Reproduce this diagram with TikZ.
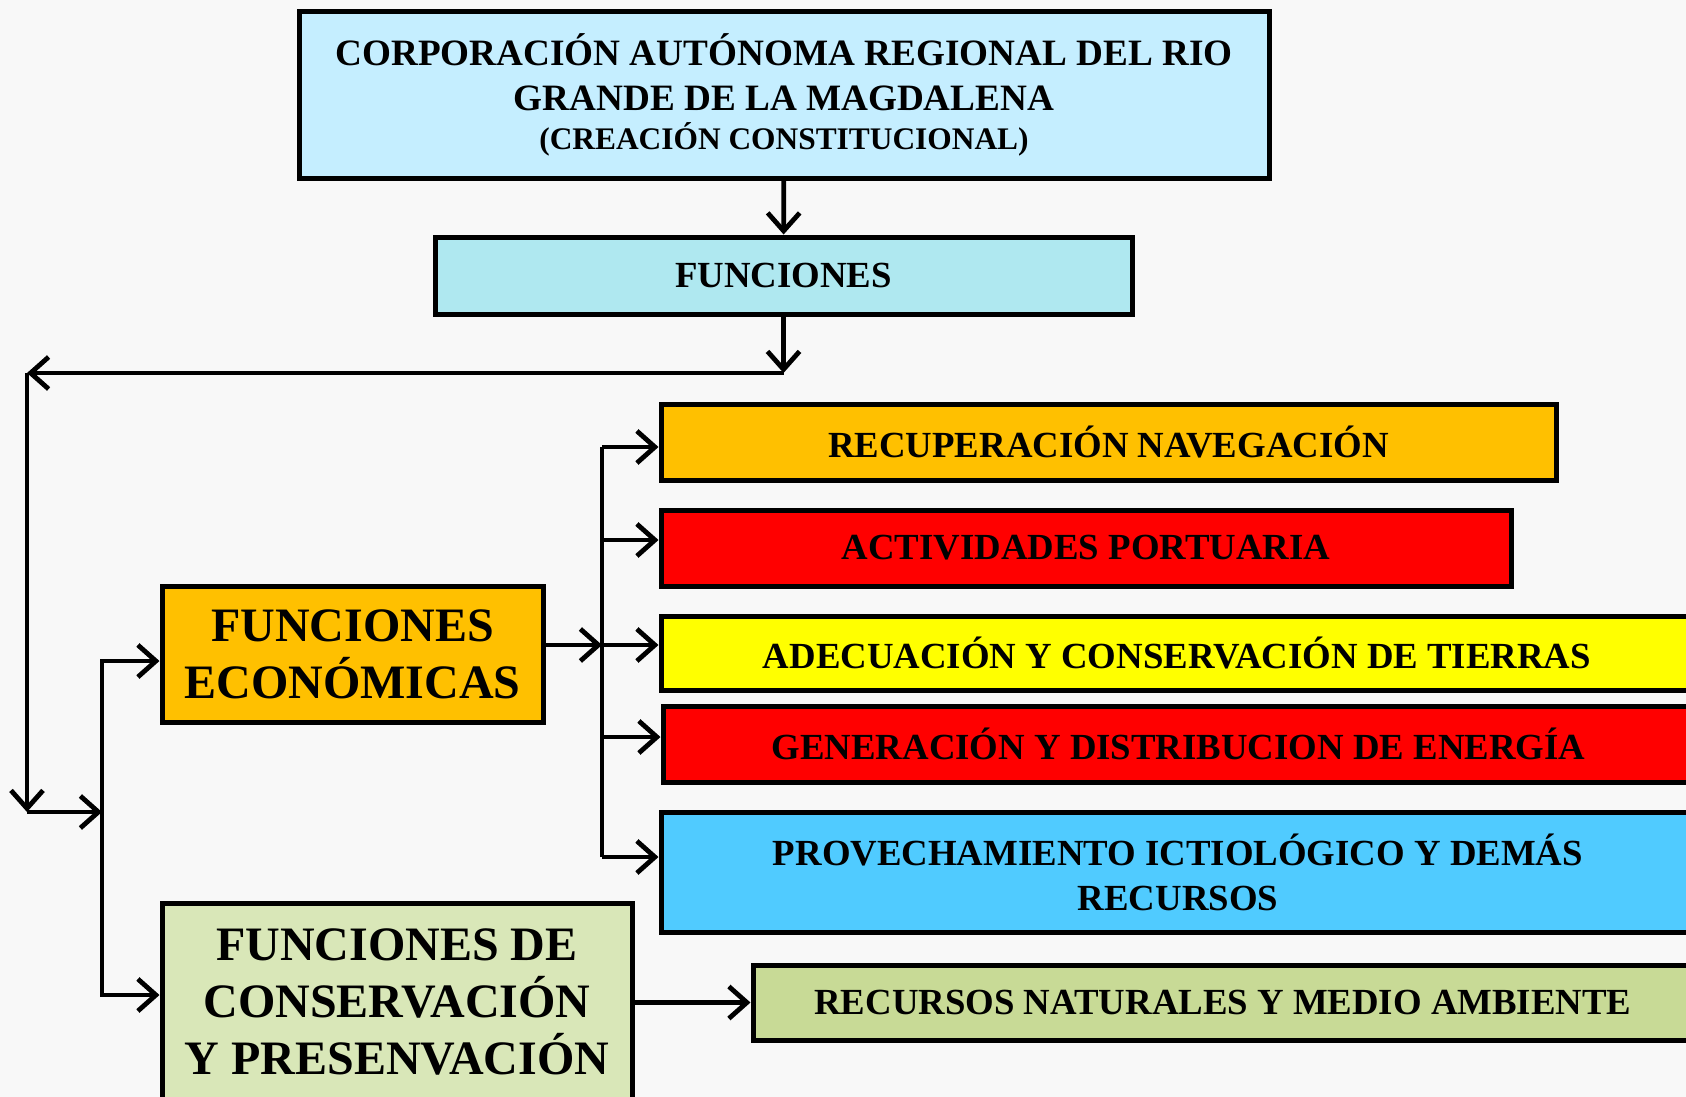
\documentclass[tikz,border=0pt]{standalone}
\usepackage{fontspec}
\setmainfont{Liberation Serif}
\usetikzlibrary{arrows.meta}
\definecolor{bgcol}{HTML}{F8F8F8}
\definecolor{topcol}{HTML}{C5EEFF}
\definecolor{funccol}{HTML}{AFE8F0}
\definecolor{orangecol}{HTML}{FFC000}
\definecolor{redcol}{HTML}{FF0000}
\definecolor{yellowcol}{HTML}{FFFF00}
\definecolor{bluecol}{HTML}{50CBFF}
\definecolor{olivecol}{HTML}{C8DA96}
\definecolor{palecol}{HTML}{D9E7B8}
\tikzset{
  box/.style={draw, line width=2.5pt, inner sep=0pt, align=center,
    font=\fontsize{18.4}{22.5}\selectfont\bfseries},
  bigbox/.style={box, font=\fontsize{24}{28.5}\selectfont\bfseries},
  ln/.style={line width=2.4pt},
  arr/.style={line width=2.4pt, -{Straight Barb[length=9pt,width=16pt,line width=2.4pt]}},
}
\begin{document}
\begin{tikzpicture}[x=0.5pt,y=-0.5pt]
\fill[bgcol] (0,0) rectangle (1686,1097);
\useasboundingbox (0,0) rectangle (1686,1097);
% cabecera
\node[box, fill=topcol, minimum width=485pt, minimum height=83pt, font=\fontsize{18.6}{22.5}\selectfont\bfseries] (top) at (784,95)
  {CORPORACIÓN AUTÓNOMA REGIONAL DEL RIO\\GRANDE DE LA MAGDALENA\\[-3pt]
   {\fontsize{15.7}{19}\selectfont (CREACIÓN CONSTITUCIONAL)}};
\node[box, fill=funccol, minimum width=348.5pt, minimum height=38.5pt] (func) at (783.5,275.5) {FUNCIONES};
\draw[arr](top) -- (func);
% ramas principales
\node[bigbox, fill=orangecol, minimum width=190.5pt, minimum height=68pt] (econ) at (352.5,654)
  {FUNCIONES\\ECONÓMICAS};
\node[bigbox, fill=palecol, minimum width=235pt, minimum height=99pt] (cons) at (397,1002)
  {FUNCIONES DE\\CONSERVACIÓN\\Y PRESENVACIÓN};
\coordinate (fdrop) at (783.5,373);
\coordinate (corner) at (27,373);
\coordinate (lowcorner) at (27,812);
\coordinate (split) at (102,812);
\draw[arr](func) -- (fdrop);
\draw[arr](fdrop) -- (corner);
\draw[arr](corner) -- (lowcorner);
\draw[arr](lowcorner) -- (split);
\draw[arr](split) |- ([yshift=-3.5pt]econ.west);
\draw[arr](split) |- ([yshift=3.5pt]cons.west);
% funciones economicas
\node[box, fill=orangecol, minimum width=447.5pt, minimum height=38pt] (recup) at (1108.5,442) {RECUPERACIÓN NAVEGACIÓN};
\node[box, fill=redcol, minimum width=425pt, minimum height=38pt] (activ) at (1086,548) {ACTIVIDADES PORTUARIA};
\node[box, fill=yellowcol, minimum width=516pt, minimum height=37pt] (adec) at (1177,653) {ADECUACIÓN Y CONSERVACIÓN DE TIERRAS};
\node[box, fill=redcol, minimum width=515.5pt, minimum height=38pt] (gen) at (1178.5,744) {GENERACIÓN Y DISTRIBUCION DE ENERGÍA};
\node[box, fill=bluecol, minimum width=517pt, minimum height=60pt] (prov) at (1178,872)
  {PROVECHAMIENTO ICTIOLÓGICO Y DEMÁS\\RECURSOS};
\coordinate (ebus) at (602,645);
\draw[arr](econ.east |- ebus) -- (ebus);
\draw[ln](602,447) -- (602,857);
\foreach \b/\y in {recup/447,activ/540,adec/645,gen/737,prov/857}
  \draw[arr](602,\y) -- (\b.west |- 0,\y);
% conservacion
\node[box, fill=olivecol, minimum width=470pt, minimum height=37.5pt] (recnat) at (1223,1002.5)
  {RECURSOS NATURALES Y MEDIO AMBIENTE};
\draw[arr](cons.east |- recnat.west) -- (recnat.west);
\end{tikzpicture}
\end{document}
